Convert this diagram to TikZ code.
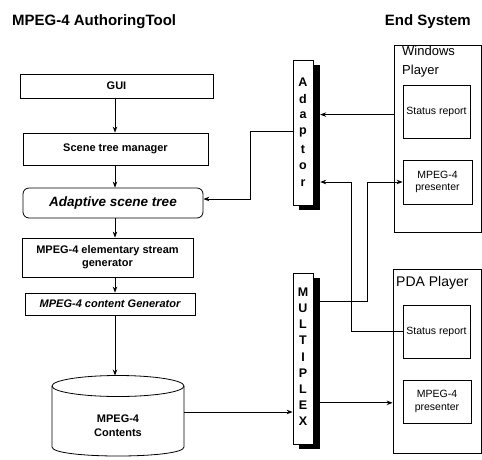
\documentclass[tikz,border=0pt]{standalone}
\usepackage{fontspec}
\setmainfont{Liberation Sans}
\usetikzlibrary{arrows.meta,calc}

\begin{document}
\begin{tikzpicture}[x=1pt,y=-1pt,
  line/.style={line width=0.8pt},
  arr/.style={line width=0.8pt,-{Stealth[length=6pt,width=4.5pt]}},
  box/.style={draw,line width=0.8pt,inner sep=1pt,align=center,
    font=\bfseries\fontsize{11}{13}\selectfont},
  plain/.style={draw,line width=0.8pt,inner sep=0pt},
  bar/.style={draw,fill=white,line width=0.8pt,inner sep=0pt,minimum width=20pt},
  shadowbar/.style={fill=black,inner sep=0pt,minimum width=21pt},
  barletter/.style={font=\bfseries\fontsize{12.5}{14}\selectfont,inner sep=0pt},
  small/.style={align=center,font=\fontsize{10.5}{12.5}\selectfont,inner sep=0pt},
  title/.style={font=\bfseries\fontsize{15}{18}\selectfont,inner sep=0pt}
]
\useasboundingbox (0,0) rectangle (482,459);

% headings
\node[title,anchor=base west] (ttool) at (12,25) {MPEG-4 AuthoringTool};
\node[title,anchor=base east] (tend) at (471,25) {End System};

% authoring tool chain
\coordinate (spine) at (115,0);
\node[box,minimum width=193pt,minimum height=24pt] (gui) at (116.5,86) {GUI};
\node[box,minimum width=185pt,minimum height=32pt] (scene) at (115.5,149) {Scene tree manager};
\node[box,rounded corners=6pt,minimum width=180pt,minimum height=30pt,
  font=\bfseries\itshape\fontsize{13.5}{15}\selectfont] (adaptive) at (113,203) {Adaptive scene tree};
\node[box,minimum width=171pt,minimum height=39pt] (elem) at (107.5,257.5) {MPEG-4 elementary stream\\generator};
\node[box,minimum width=170pt,minimum height=22pt,
  font=\bfseries\itshape\fontsize{11}{13}\selectfont] (cgen) at (110,304) {MPEG-4 content Generator};

% contents store (cylinder)
\draw[line,fill=white] (52,386) -- (52,447) .. controls (52,459) and (184,459) .. (184,447) -- (184,386);
\draw[line] (118,386) ellipse[x radius=66,y radius=10.5];
\coordinate (cyltop) at (115,375.5);
\coordinate (cylR) at (184,412);
\node[box,draw=none,font=\bfseries\fontsize{11}{14}\selectfont] (contents) at (118,426) {MPEG-4\\Contents};

\draw[arr] (gui.south -| spine) -- (scene.north -| spine);
\draw[arr] (scene.south -| spine) -- (adaptive.north -| spine);
\draw[arr] (adaptive.south -| spine) -- (elem.north -| spine);
\draw[arr] (elem.south -| spine) -- (cgen.north -| spine);
\draw[arr] (cgen.south -| spine) -- (cyltop);

% adaptor and multiplexer bars with drop shadows
\node[shadowbar,minimum height=145pt] (adsh) at (309.5,137.5) {};
\node[bar,minimum height=145pt] (adapt) at (303,132.5) {};
\foreach \c [count=\i from 0] in {A,d,a,p,t,o,r}
  \node[barletter] (ad\i) at (303,{82+16.8*\i}) {\c};

\node[shadowbar,minimum height=171pt] (mxsh) at (309.5,363.5) {};
\node[bar,minimum height=171pt] (mux) at (303,358.5) {};
\foreach \c [count=\i from 0] in {M,U,L,T,I,P,L,E,X}
  \node[barletter] (mx\i) at (303,{292+16.2*\i}) {\c};

% end system players
\node[plain,minimum width=87pt,minimum height=187pt] (winp) at (437.5,138.5) {};
\node[anchor=north west,align=left,inner sep=0pt,font=\fontsize{13}{19}\selectfont] (wlab) at (402,46) {Windows\\Player};
\node[plain,small,minimum width=67pt,minimum height=53pt] (wstat) at (436.5,111.5) {Status report};
\node[plain,small,minimum width=69pt,minimum height=44pt] (wpres) at (437.5,182) {MPEG-4\\presenter};

\node[plain,minimum width=88pt,minimum height=184pt] (pdap) at (437,361) {};
\node[anchor=west,inner sep=0pt,font=\fontsize{14}{17}\selectfont] (plab) at (396,283) {PDA Player};
\node[plain,small,minimum width=67pt,minimum height=53pt] (pstat) at (436.5,331.5) {Status report};
\node[plain,small,minimum width=68pt,minimum height=43pt] (ppres) at (437,401.5) {MPEG-4\\presenter};

% connections
\coordinate (wout) at ($(winp.north west)+(0,70)$);
\draw[arr] (wout) -- (wout -| adsh.east);

\coordinate (aout) at ($(adapt.north west)+(0,72)$);
\draw[arr] (aout) -- ++(-42,0) |- ([yshift=4pt]adaptive.east);

\draw[arr] (pstat.west) -- ++(-51,0) |- (wpres.west -| adsh.east);

\coordinate (mout1) at ($(mxsh.north east)+(0,24)$);
\draw[arr] (mout1) -- ++(47,0) |- (wpres.west);

\draw[arr] (cylR) -- (cylR -| mux.west);

\coordinate (mout2) at ($(mxsh.north east)+(0,125)$);
\draw[arr] (mout2) -- (mout2 -| pdap.west);
\end{tikzpicture}
\end{document}
